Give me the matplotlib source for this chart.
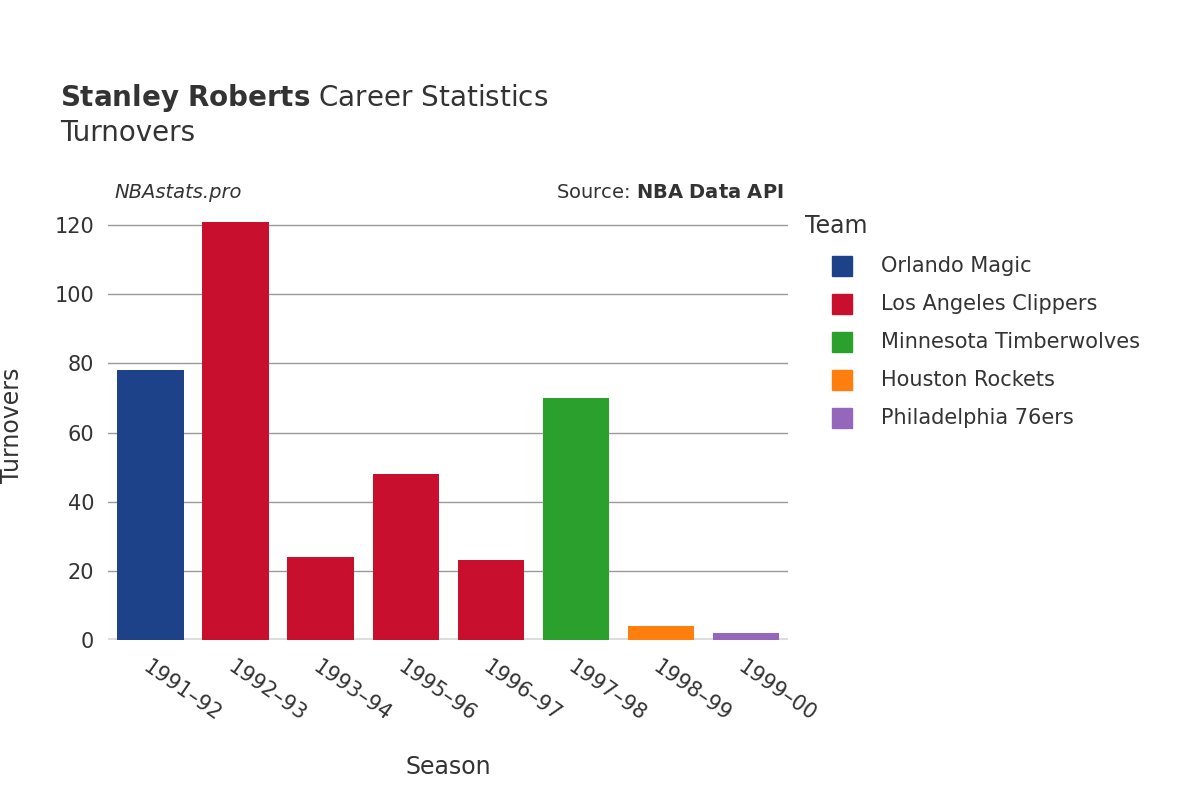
import matplotlib
matplotlib.use("Agg")
import matplotlib.pyplot as plt
from matplotlib.lines import Line2D

seasons = ["1991–92", "1992–93", "1993–94", "1995–96", "1996–97", "1997–98", "1998–99", "1999–00"]
turnovers = [78, 121, 24, 48, 23, 70, 4, 2]
bar_teams = ["Orlando Magic", "Los Angeles Clippers", "Los Angeles Clippers", "Los Angeles Clippers",
             "Los Angeles Clippers", "Minnesota Timberwolves", "Houston Rockets", "Philadelphia 76ers"]
teams = ["Orlando Magic", "Los Angeles Clippers", "Minnesota Timberwolves", "Houston Rockets", "Philadelphia 76ers"]
team_colors = {"Orlando Magic": "#1d428a", "Los Angeles Clippers": "#c8102e",
               "Minnesota Timberwolves": "#2ca02c", "Houston Rockets": "#ff7f0e",
               "Philadelphia 76ers": "#9467bd"}
yticks = [0, 20, 40, 60, 80, 100, 120]

txt = "#333333"
fig = plt.figure(figsize=(12, 8), dpi=100)
ax = fig.add_axes([0.09, 0.2, 0.567, 0.536])

x = range(len(seasons))
ax.bar(x, turnovers, width=0.78, color=[team_colors[t] for t in bar_teams], zorder=3)
ax.set_xlim(-0.5, len(seasons) - 0.5)
ax.set_ylim(0, 124)
ax.set_yticks(yticks)
ax.grid(axis="y", color="#999999", linewidth=1, zorder=0)
ax.axhline(0, color="#dddddd", linewidth=3, zorder=2)
for s in ax.spines.values():
    s.set_visible(False)
ax.tick_params(length=0, labelsize=15, labelcolor=txt)
ax.tick_params(axis="y", pad=10)
ax.set_xticks(list(x))
ax.set_xticklabels(seasons, rotation=-35, ha="left", rotation_mode="anchor")
ax.tick_params(axis="x", pad=12)
ax.set_xlabel("Season", fontsize=17, color=txt, labelpad=22)
ax.set_ylabel("Turnovers", fontsize=17, color=txt, labelpad=22)

fig.text(0.05, 0.877, r"$\bf{Stanley\ Roberts}$ Career Statistics", fontsize=20, color=txt, va="center")
fig.text(0.05, 0.834, "Turnovers", fontsize=20, color=txt, va="center")
fig.text(0.095, 0.76, "NBAstats.pro", fontsize=14, style="italic", color=txt, va="center")
fig.text(0.653, 0.76, r"Source: $\bf{NBA\ Data\ API}$", fontsize=14, color=txt, va="center", ha="right")

fig.text(0.671, 0.717, "Team", fontsize=17, color=txt, va="center")
for i, t in enumerate(teams):
    y = 0.667 - i * 0.0475
    fig.add_artist(Line2D([0.702], [y], marker="s", markersize=15, color=team_colors[t],
                          transform=fig.transFigure))
    fig.text(0.734, y, t, fontsize=15, color=txt, va="center")

fig.savefig("out.png", dpi=100)
